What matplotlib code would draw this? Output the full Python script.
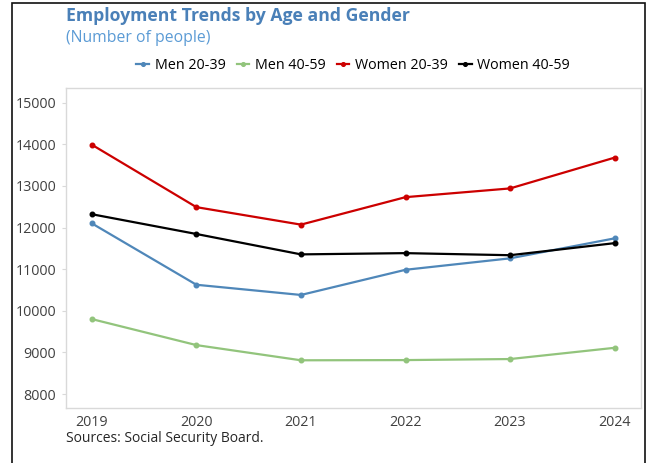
import numpy as np
import matplotlib.pyplot as plt
from matplotlib.patches import Rectangle

plt.rcParams['font.family'] = ['Open Sans', 'DejaVu Sans']

years = [2019, 2020, 2021, 2022, 2023, 2024]
men_20_39 = [12100, 10625, 10380, 10985, 11260, 11740]
men_40_59 = [9800, 9175, 8810, 8815, 8840, 9110]
women_20_39 = [13990, 12490, 12070, 12730, 12940, 13680]
women_40_59 = [12320, 11845, 11355, 11385, 11335, 11625]

series = [
    ('Men 20-39', men_20_39, '#4f87b9'),
    ('Men 40-59', men_40_59, '#92c47c'),
    ('Women 20-39', women_20_39, '#cc0000'),
    ('Women 40-59', women_40_59, '#000000'),
]

fig = plt.figure(figsize=(6.48, 4.63), dpi=100)
ax = fig.add_axes([0.1014, 0.1181, 0.8874, 0.6912])

for name, vals, col in series:
    ax.plot(years, vals, color=col, lw=1.6, marker='o', ms=3.3, label=name)

ax.set_xlim(2018.75, 2024.25)
ax.set_ylim(7656, 15346)
ax.set_xticks(years)
ax.set_yticks(np.arange(8000, 15001, 1000))
for s in ax.spines.values():
    s.set_color('#d9d9d9')
    s.set_linewidth(1.0)
ax.tick_params(axis='y', length=3, color='#d9d9d9', labelcolor='#404040', labelsize=10.3, pad=4)
ax.tick_params(axis='x', length=0, labelcolor='#404040', labelsize=10.3, pad=5)

fig.text(0.1014, 0.955, 'Employment Trends by Age and Gender', fontsize=12.7, fontweight='bold',
         color='#4a80b8', va='baseline')
fig.text(0.1014, 0.909, '(Number of people)', fontsize=11.3, color='#5b9bd5', va='baseline')
fig.text(0.1014, 0.045, 'Sources: Social Security Board.', fontsize=10, color='#262626', va='baseline')

ax.legend(loc='center', bbox_to_anchor=(0.5, 1.072), ncol=4, frameon=False,
          fontsize=10.3, handlelength=0.9, handletextpad=0.4, columnspacing=0.75,
          markerscale=0.8)

# frame round the figure, open at the bottom
fig.patches.append(Rectangle((0.018, -0.05), 0.9774, 1.043, transform=fig.transFigure,
                             fill=False, edgecolor='#111111', lw=1.2))

fig.savefig('out.png', dpi=100)
